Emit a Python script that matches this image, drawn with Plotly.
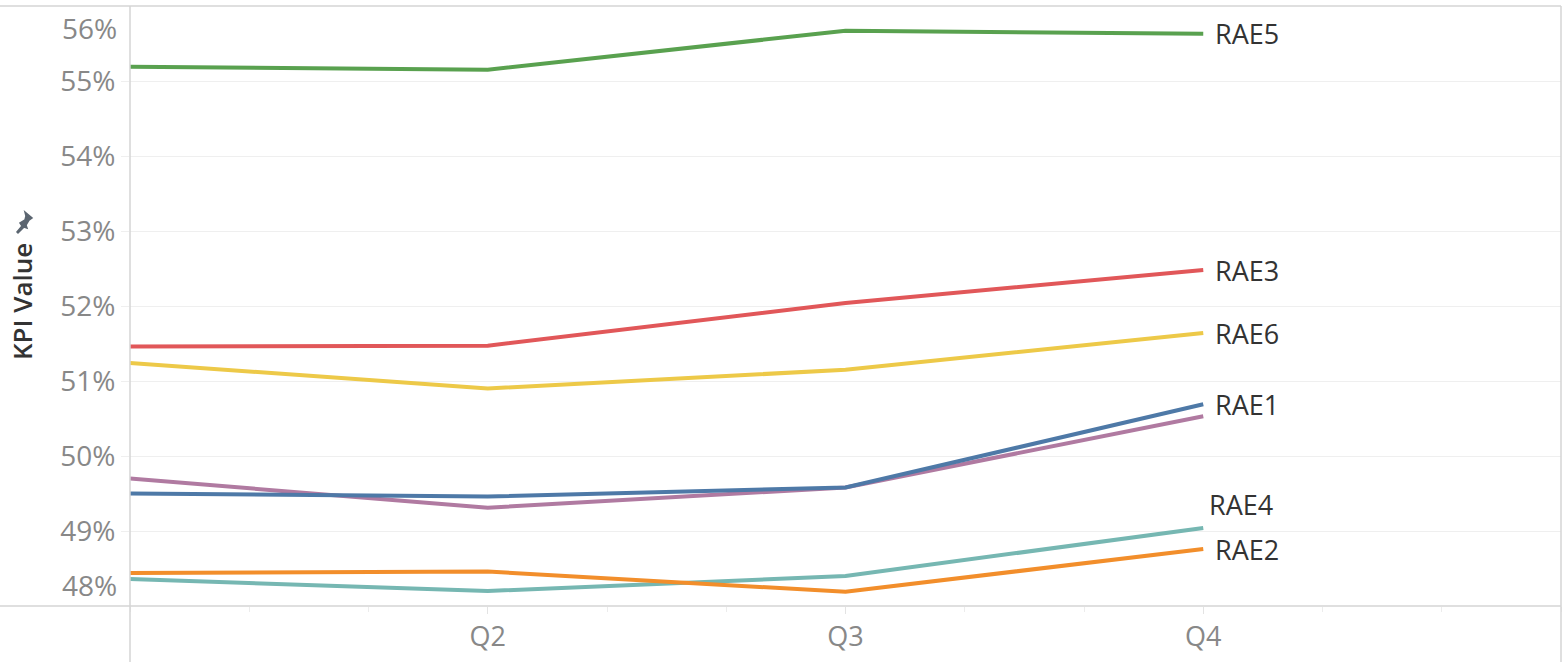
import plotly.graph_objects as go

quarters = ["Q1", "Q2", "Q3", "Q4"]
rae1 = [49.50, 49.46, 49.58, 50.69]
rae2 = [48.44, 48.46, 48.19, 48.76]
rae3 = [51.46, 51.47, 52.04, 52.48]
rae4 = [48.36, 48.20, 48.40, 49.04]
rae5 = [55.19, 55.15, 55.67, 55.63]
rae6 = [51.24, 50.90, 51.15, 51.64]
rae7 = [49.70, 49.31, 49.58, 50.53]

series_names = ["RAE1", "RAE2", "RAE3", "RAE4", "RAE5", "RAE6", "RAE7"]
series_vals = [rae1, rae2, rae3, rae4, rae5, rae6, rae7]
colors = ["#4e79a7", "#f28e2b", "#e15759", "#76b7b2", "#59a14f", "#edc948", "#b07aa1"]
show_label = [True, True, True, True, True, True, False]

y_ticks = [48, 49, 50, 51, 52, 53, 54, 55, 56]

FONT = "Open Sans"
W, H = 1563, 670
ML, MR, MT, MB = 130, 2, 6, 64
PW, PH = W - ML - MR, H - MT - MB

xpos = list(range(len(quarters)))

fig = go.Figure()
# draw purple first so blue sits above it
order = [6, 3, 1, 5, 2, 4, 0]
for i in order:
    fig.add_trace(go.Scatter(
        x=xpos, y=series_vals[i], mode="lines", name=series_names[i],
        line=dict(color=colors[i], width=4), hoverinfo="skip"))

annotations = []
for i, nm in enumerate(series_names):
    if not show_label[i]:
        continue
    xs, ys = 10, 0
    if nm == "RAE4":
        xs, ys = 4, 24
    annotations.append(dict(
        x=xpos[-1], y=series_vals[i][-1], xref="x", yref="y", text=nm,
        showarrow=False, xanchor="left", yanchor="middle", xshift=xs, yshift=ys,
        font=dict(family=FONT, size=27, color="#333333")))

# end tick labels shifted inward like the reference
for v, sh in [(56, -22), (48, 21)]:
    annotations.append(dict(
        x=0, y=v, xref="paper", yref="y", text=f"{v}%", showarrow=False,
        xanchor="right", yanchor="middle", xshift=-11, yshift=sh,
        font=dict(family=FONT, size=28, color="#888888")))

# y axis title
annotations.append(dict(
    x=(22 - ML) / PW, y=(MT + PH - 302) / PH, xref="paper", yref="paper",
    text="KPI Value", textangle=-90, showarrow=False, xanchor="center", yanchor="middle",
    font=dict(family=FONT, size=26, color="#333333", weight=600)))

def px(x):
    return (x - ML) / PW

def py(y):
    return (MT + PH - y) / PH

line_col = "#d4d4d4"
shapes = [
    dict(type="line", xref="paper", yref="paper", x0=px(0), x1=1, y0=1, y1=1,
         line=dict(color=line_col, width=1.5)),
    dict(type="line", xref="paper", yref="paper", x0=px(0), x1=1, y0=0, y1=0,
         line=dict(color=line_col, width=1.5)),
    dict(type="line", xref="paper", yref="paper", x0=0, x1=0, y0=py(662), y1=1,
         line=dict(color=line_col, width=1.5)),
    dict(type="line", xref="paper", yref="paper", x0=1, x1=1, y0=py(662), y1=1,
         line=dict(color=line_col, width=1.5)),
]
# pin icon next to axis title
pin = [(25, 212), (32, 218), (29, 220), (26, 225), (27, 228), (24, 227), (18, 233), (17, 232), (22, 226), (20, 223), (25, 220), (26, 216)]
path = "M " + " L ".join(f"{px(a):.5f},{py(b):.5f}" for a, b in pin) + " Z"
shapes.append(dict(type="path", xref="paper", yref="paper", path=path,
                   fillcolor="#5b6570", line=dict(color="#5b6570", width=1.5)))

fig.update_layout(
    width=W, height=H,
    margin=dict(l=ML, r=MR, t=MT, b=MB),
    paper_bgcolor="white", plot_bgcolor="white",
    showlegend=False,
    font=dict(family=FONT),
    annotations=annotations,
    shapes=shapes,
    xaxis=dict(
        range=[0, 4], showgrid=False, zeroline=False, showline=False,
        tickvals=xpos[1:], ticktext=quarters[1:],
        ticks="outside", ticklen=7, tickcolor="#e3e3e3", tickwidth=1,
        tickfont=dict(family=FONT, size=27, color="#888888"),
        minor=dict(tick0=0, dtick=1 / 3, ticks="outside", ticklen=5, tickcolor="#ececec", showgrid=False),
    ),
    yaxis=dict(
        range=[48, 56], showgrid=True, gridcolor="#efefef", gridwidth=1,
        zeroline=False, showline=False,
        tickvals=y_ticks[1:-1], ticktext=[f"{v}%" for v in y_ticks[1:-1]],
        ticks="outside", ticklen=8, tickcolor="#efefef",
        tickfont=dict(family=FONT, size=28, color="#888888"),
    ),
)

fig.write_html("out.html", config={"displayModeBar": False},
               post_script="document.body.style.margin='0px';document.body.style.overflow='hidden';")
